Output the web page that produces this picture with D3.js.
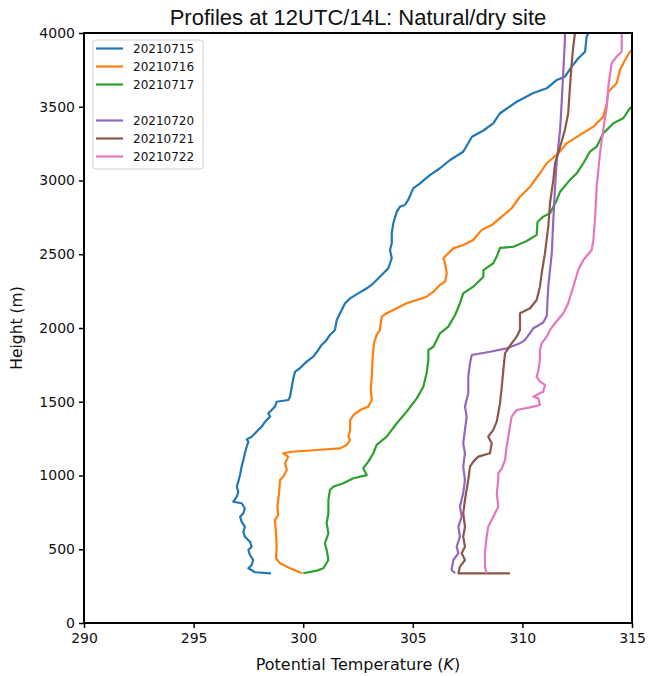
<!DOCTYPE html>
<html>
<head>
<meta charset="utf-8">
<script src="https://cdn.jsdelivr.net/npm/d3@7"></script>
<style>
  body { margin: 0; background: #fff; }
  text { fill: #111; }
</style>
</head>
<body>
<svg></svg>
<script>
// potential temperature (K) / height (m) pairs
const profile15 = [[298.53,337],[297.80,344],[297.50,371],[297.65,393],[297.72,427],[297.57,461],[297.50,495],[297.65,517],[297.57,551],[297.34,585],[297.27,619],[297.34,653],[297.19,687],[297.12,721],[297.27,744],[297.34,778],[297.19,812],[296.81,822],[296.97,856],[297.04,890],[296.97,924],[297.04,958],[297.12,1003],[297.19,1060],[297.27,1105],[297.34,1151],[297.42,1195],[297.50,1229],[297.42,1245],[297.65,1263],[297.95,1309],[298.11,1331],[298.26,1365],[298.49,1399],[298.41,1422],[298.56,1444],[298.71,1467],[298.79,1500],[299.32,1512],[299.40,1534],[299.48,1602],[299.55,1659],[299.63,1704],[299.85,1727],[300.16,1772],[300.46,1806],[300.69,1851],[300.84,1885],[301.07,1919],[301.22,1953],[301.45,1987],[301.53,2054],[301.91,2168],[302.14,2201],[302.51,2235],[302.90,2269],[303.20,2303],[303.58,2359],[303.88,2405],[303.96,2439],[304.04,2473],[303.96,2529],[304.04,2574],[304.04,2642],[304.11,2710],[304.27,2789],[304.42,2823],[304.64,2834],[304.79,2868],[305.02,2947],[305.33,2981],[305.78,3037],[306.24,3083],[306.70,3139],[307.30,3195],[307.70,3297],[308.22,3339],[308.67,3388],[308.98,3456],[309.74,3534],[310.50,3593],[311.11,3625],[311.57,3682],[311.94,3704],[312.25,3772],[312.55,3829],[312.86,3873],[312.93,3975],[313.01,4000]];
const profile16 = [[299.95,337],[299.40,371],[298.94,405],[298.76,439],[298.79,517],[298.76,608],[298.71,698],[298.86,732],[298.82,789],[298.90,879],[298.94,970],[299.09,992],[299.25,1037],[299.17,1083],[299.32,1128],[299.09,1151],[299.48,1161],[300.62,1173],[301.68,1184],[301.98,1207],[302.14,1241],[302.06,1263],[302.14,1309],[302.14,1376],[302.29,1410],[302.59,1444],[302.97,1467],[303.13,1512],[303.08,1580],[303.13,1670],[303.17,1806],[303.23,1896],[303.35,1953],[303.50,1987],[303.58,2077],[303.81,2100],[304.27,2134],[304.72,2168],[305.18,2190],[305.63,2212],[305.94,2246],[306.24,2292],[306.47,2314],[306.55,2371],[306.47,2439],[306.39,2473],[306.62,2507],[306.85,2540],[307.30,2563],[307.76,2597],[308.14,2665],[308.60,2698],[309.06,2755],[309.51,2812],[309.89,2890],[310.35,2958],[310.80,3049],[311.11,3117],[311.64,3185],[312.02,3252],[312.63,3309],[313.24,3365],[313.69,3433],[313.85,3524],[313.92,3602],[314.30,3659],[314.45,3749],[314.68,3817],[314.91,3873],[315.2,3900]];
const profile17 = [[300.00,337],[300.62,355],[300.92,371],[301.15,427],[301.07,495],[300.99,540],[301.15,608],[301.07,676],[301.15,744],[301.15,834],[301.22,902],[301.37,924],[301.83,947],[302.29,981],[302.90,1003],[302.74,1049],[302.97,1094],[303.20,1151],[303.35,1207],[303.81,1263],[304.27,1354],[304.72,1433],[305.18,1523],[305.48,1602],[305.63,1693],[305.71,1783],[305.71,1851],[305.94,1873],[306.24,1964],[306.62,2009],[306.93,2088],[307.15,2168],[307.30,2235],[307.76,2280],[308.22,2348],[308.22,2393],[308.67,2439],[308.83,2484],[308.98,2543],[309.59,2551],[310.20,2590],[310.65,2631],[310.69,2719],[310.95,2755],[311.26,2778],[311.57,2868],[311.72,2924],[312.17,3004],[312.48,3049],[312.78,3117],[313.08,3195],[313.39,3229],[313.69,3320],[313.85,3343],[314.15,3388],[314.60,3422],[314.91,3490],[315.2,3520]];
const profile20 = [[306.93,337],[306.77,359],[306.85,427],[307.08,473],[307.00,517],[307.15,585],[307.08,653],[307.23,721],[307.15,789],[307.30,879],[307.38,970],[307.30,1060],[307.38,1151],[307.30,1218],[307.38,1309],[307.46,1399],[307.38,1467],[307.53,1557],[307.53,1670],[307.61,1761],[307.69,1817],[308.52,1839],[309.28,1862],[309.89,1896],[310.12,1919],[310.50,1998],[310.95,2037],[311.11,2081],[311.18,2280],[311.34,2507],[311.41,2732],[311.49,2958],[311.57,3139],[311.72,3343],[311.79,3524],[311.87,3749],[311.94,3953],[311.94,4000]];
const profile21 = [[309.43,337],[307.08,337],[307.15,382],[307.38,427],[307.23,473],[307.38,517],[307.30,585],[307.38,653],[307.30,744],[307.38,834],[307.53,970],[307.61,1060],[307.76,1094],[307.99,1128],[308.52,1151],[308.60,1218],[308.44,1263],[308.67,1309],[308.83,1365],[308.90,1422],[308.98,1490],[309.06,1602],[309.13,1715],[309.21,1829],[309.36,1862],[309.51,1896],[309.74,1941],[309.89,1987],[309.89,2100],[310.35,2134],[310.65,2190],[310.80,2280],[310.88,2371],[311.03,2507],[311.18,2687],[311.26,2846],[311.41,3004],[311.49,3117],[311.72,3229],[311.94,3343],[312.09,3456],[312.17,3636],[312.25,3795],[312.32,3907],[312.40,4000]];
const profile22 = [[308.37,337],[308.29,382],[308.29,473],[308.37,585],[308.44,653],[308.60,698],[308.75,744],[308.90,789],[308.83,879],[308.90,970],[308.90,1015],[309.06,1049],[309.21,1105],[309.28,1195],[309.36,1263],[309.43,1331],[309.51,1399],[309.74,1444],[310.35,1462],[310.80,1478],[310.73,1523],[310.50,1534],[310.80,1557],[310.95,1568],[311.03,1614],[310.80,1636],[310.65,1670],[310.73,1715],[310.80,1783],[310.80,1851],[310.88,1896],[311.11,1941],[311.26,1987],[311.49,2032],[311.87,2100],[312.09,2168],[312.32,2280],[312.55,2393],[312.78,2461],[313.16,2529],[313.24,2597],[313.31,2732],[313.39,2958],[313.54,3185],[313.69,3343],[313.85,3501],[313.92,3636],[314.07,3795],[314.30,3840],[314.53,3873],[314.53,4000]];

const dates = ['20210715', '20210716', '20210717', '20210720', '20210721', '20210722'];
const profiles = [profile15, profile16, profile17, profile20, profile21, profile22];
const colors = ['#1f77b4', '#ff7f0e', '#2ca02c', '#9467bd', '#8c564b', '#e377c2'];
// the legend has an empty slot between the two groups of days
const legendRows = ['20210715', '20210716', '20210717', '', '20210720', '20210721', '20210722'];

const xTicks = [290, 295, 300, 305, 310, 315];
const yTicks = [0, 500, 1000, 1500, 2000, 2500, 3000, 3500, 4000];

const margin = { top: 33, right: 16, bottom: 53, left: 84 };
const width = 648 - margin.left - margin.right;
const height = 676 - margin.top - margin.bottom;

const svg = d3.select('svg')
  .attr('width', 648)
  .attr('height', 676);

const g = svg.append('g')
  .attr('transform', `translate(${margin.left},${margin.top})`);

const x = d3.scaleLinear().domain([290, 315]).range([0, width]);
const y = d3.scaleLinear().domain([0, 4000]).range([height, 0]);

g.append('clipPath').attr('id', 'plot-clip')
  .append('rect').attr('width', width).attr('height', height);

const line = d3.line()
  .x(d => x(d[0]))
  .y(d => y(d[1]));

g.append('g')
  .attr('clip-path', 'url(#plot-clip)')
  .selectAll('path')
  .data(profiles)
  .enter().append('path')
    .attr('d', line)
    .attr('fill', 'none')
    .attr('stroke', (d, i) => colors[i])
    .attr('stroke-width', 2.2)
    .attr('stroke-linejoin', 'round');

const styleAxis = (sel) => {
  sel.select('.domain').remove();
  sel.selectAll('.tick line').attr('stroke', '#000').attr('stroke-width', 1.5);
  sel.selectAll('.tick text')
    .attr('fill', '#111')
    .style('font-family', '"DejaVu Sans", sans-serif')
    .style('font-size', '14px');
};

g.append('g')
  .attr('transform', `translate(0,${height})`)
  .call(d3.axisBottom(x).tickValues(xTicks).tickSize(5).tickPadding(5).tickFormat(d3.format('d')))
  .call(styleAxis);

g.append('g')
  .call(d3.axisLeft(y).tickValues(yTicks).tickSize(5).tickPadding(4).tickFormat(d3.format('d')))
  .call(styleAxis);

g.append('rect')
  .attr('width', width)
  .attr('height', height)
  .attr('fill', 'none')
  .attr('stroke', '#000')
  .attr('stroke-width', 2);

// title and axis labels
svg.append('text')
  .attr('x', margin.left + width / 2)
  .attr('y', 25)
  .attr('text-anchor', 'middle')
  .style('font-family', '"Liberation Sans", Arial, sans-serif')
  .style('font-size', '22px')
  .text('Profiles at 12UTC/14L: Natural/dry site');

const xLabel = svg.append('text')
  .attr('x', margin.left + width / 2)
  .attr('y', 670)
  .attr('text-anchor', 'middle')
  .style('font-family', '"DejaVu Sans", sans-serif')
  .style('font-size', '16px');
xLabel.append('tspan').text('Potential Temperature (');
xLabel.append('tspan').style('font-style', 'italic').text('K');
xLabel.append('tspan').text(')');

svg.append('text')
  .attr('transform', `translate(22,${margin.top + height / 2}) rotate(-90)`)
  .attr('text-anchor', 'middle')
  .style('font-family', '"DejaVu Sans", sans-serif')
  .style('font-size', '15.5px')
  .text('Height (m)');

// legend
const legend = svg.append('g').attr('transform', 'translate(93,40)');
legend.append('rect')
  .attr('width', 110)
  .attr('height', 129)
  .attr('rx', 3)
  .attr('fill', '#fff')
  .attr('fill-opacity', 0.8)
  .attr('stroke', '#d0d0d0');

const rows = legend.selectAll('g.row')
  .data(legendRows)
  .enter().append('g')
    .attr('class', 'row')
    .attr('transform', (d, i) => `translate(0,${8.5 + i * 18})`);

rows.filter(d => d !== '').append('line')
  .attr('x1', 3).attr('x2', 30)
  .attr('stroke', d => colors[dates.indexOf(d)])
  .attr('stroke-width', 2.2);

rows.append('text')
  .attr('x', 40)
  .attr('dy', '0.36em')
  .style('font-family', '"DejaVu Sans", sans-serif')
  .style('font-size', '12px')
  .text(d => d);
</script>
</body>
</html>
